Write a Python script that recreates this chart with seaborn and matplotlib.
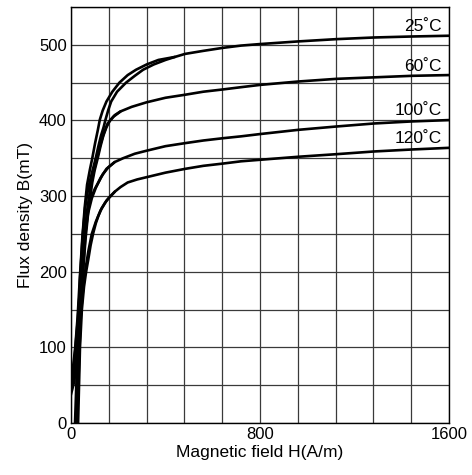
import numpy as np
import pandas as pd
import matplotlib
matplotlib.use("Agg")
import matplotlib.pyplot as plt
import seaborn as sns

# ---- data ----
temps = ["25˚C", "60˚C", "100˚C", "120˚C"]

# ascending (inner) branches: H in A/m, B in mT
h_up_25 = [17, 28, 38, 50, 60, 70, 80, 88, 98, 106, 116, 127, 138, 146, 158, 170, 195, 233, 270, 305, 350, 400,
           440, 483, 560, 643, 720, 800, 962, 1123, 1283, 1442, 1600]
b_up_25 = [0, 100, 190, 250, 285, 305, 320, 330, 342, 352, 366, 380, 391, 401, 414, 425, 438, 450, 459, 467, 474,
           480, 484, 488, 492, 496, 499, 501, 504.5, 507.5, 509.7, 511, 512]
# descending (outer) branch, joins the ascending one at H=440
h_dn_25 = [440, 370, 320, 275, 240, 205, 175, 150, 134, 122, 114, 102, 90, 80, 68, 58, 48, 38, 28, 18, 8, 0, -15]
b_dn_25 = [484, 480, 474, 467, 460, 450, 438, 425, 413, 401, 388, 370, 350, 335, 315, 285, 245, 195, 140, 100, 72,
           58, 35]

h_up_60 = [22, 33, 43, 52, 62, 75, 90, 100, 113, 125, 137, 150, 165, 185, 210, 257, 320, 400, 483, 560, 643, 720,
           800, 962, 1123, 1283, 1442, 1600]
b_up_60 = [0, 100, 170, 205, 245, 285, 318, 334, 350, 366, 380, 391, 400, 407, 412, 418, 424, 430, 434, 438, 441,
           444, 447, 451.5, 455, 457, 459, 460]
h_dn_60 = [210, 180, 155, 140, 126, 110, 96, 84, 70, 56, 42, 27, 12, 0, -15]
b_dn_60 = [412, 405, 396, 384, 370, 350, 332, 315, 285, 245, 195, 130, 75, 50, 28]

h_up_100 = [26, 36, 45, 53, 60, 66, 75, 87, 100, 116, 135, 158, 185, 220, 270, 320, 400, 483, 560, 643, 720, 800,
            962, 1123, 1283, 1442, 1600]
b_up_100 = [0, 100, 165, 210, 245, 270, 287, 299, 309, 318, 329, 338, 345, 350, 356, 360, 366, 370, 373.5, 376.5,
            379, 382, 387.6, 392, 396, 398.7, 400.5]
h_dn_100 = [185, 150, 125, 105, 88, 72, 60, 50, 40, 28, 12, 0, -15]
b_dn_100 = [345, 336, 324, 311, 297, 277, 250, 215, 170, 115, 65, 45, 22]

h_up_120 = [30, 38, 46, 55, 64, 73, 83, 94, 105, 116, 130, 144, 161, 186, 210, 240, 280, 320, 400, 483, 560, 643,
            720, 800, 962, 1123, 1283, 1442, 1600]
b_up_120 = [0, 100, 150, 180, 200, 216, 235, 251, 264, 274, 284, 291, 298, 306, 312, 318, 322, 325, 331, 336, 340,
            343, 346, 348, 352, 355.4, 359, 361.6, 363.8]
h_dn_120 = [186, 150, 125, 105, 88, 74, 62, 52, 42, 30, 14, 0, -15]
b_dn_120 = [306, 294, 281, 266, 250, 228, 205, 180, 145, 100, 55, 38, 18]

label_h = [1570, 1570, 1570, 1570]
label_b = [524, 471, 413, 376]

branches = [
    ("25", "up", h_up_25, b_up_25), ("25", "dn", h_dn_25, b_dn_25),
    ("60", "up", h_up_60, b_up_60), ("60", "dn", h_dn_60, b_dn_60),
    ("100", "up", h_up_100, b_up_100), ("100", "dn", h_dn_100, b_dn_100),
    ("120", "up", h_up_120, b_up_120), ("120", "dn", h_dn_120, b_dn_120),
]
rows = []
for t, br, hs, bs in branches:
    for i, (h, b) in enumerate(zip(hs, bs)):
        rows.append({"branch": t + br, "order": i, "H": h, "B": b})
df = pd.DataFrame(rows)

# ---- plotting ----
sns.set_theme(style="white")
plt.rcParams["font.family"] = ["Liberation Sans", "DejaVu Sans"]

fig = plt.figure(figsize=(4.72, 4.75), dpi=100)
ax = fig.add_axes([71 / 472, 1 - 423 / 475, 378 / 472, 416 / 475])

sns.lineplot(data=df, x="H", y="B", units="branch", estimator=None, sort=False,
             color="black", lw=1.9, legend=False, ax=ax, zorder=3)

ax.set_xlim(0, 1600)
ax.set_ylim(0, 550)
ax.set_xticks([0, 800, 1600])
ax.set_xticks(np.arange(0, 1601, 160), minor=True)
ax.set_yticks([0, 100, 200, 300, 400, 500])
ax.set_yticks(np.arange(0, 551, 50), minor=True)
ax.grid(True, which="both", color="#3a3a3a", lw=0.9, zorder=1)
ax.tick_params(which="both", length=0, labelsize=12, colors="black", pad=3)
for s in ax.spines.values():
    s.set_color("black")
    s.set_linewidth(1.0)

ax.set_xlabel("Magnetic field H(A/m)", fontsize=12.5, color="black", labelpad=2)
ax.set_ylabel("Flux density B(mT)", fontsize=12.5, color="black", labelpad=4)

for t, x, y in zip(temps, label_h, label_b):
    ax.text(x, y, t, ha="right", va="center", fontsize=12.5, color="black", zorder=4)

fig.savefig("out.png", dpi=100)
